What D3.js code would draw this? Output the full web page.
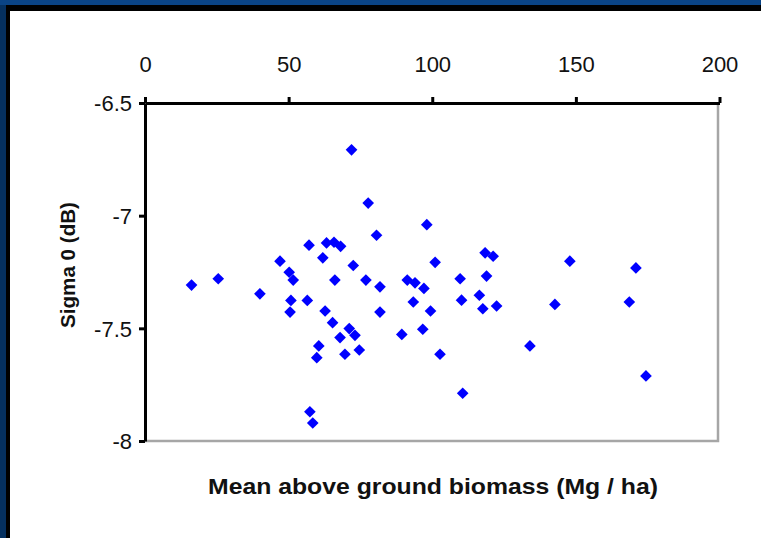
<!DOCTYPE html>
<html>
<head>
<meta charset="utf-8">
<script src="https://cdn.jsdelivr.net/npm/d3@7"></script>
<style>
  html, body { margin: 0; padding: 0; background: #0a4486; }
  svg { display: block; }
</style>
</head>
<body>
<div id="chart"></div>
<script>
// biomass (Mg/ha) and backscatter (dB)
const biomass = [16.2, 25.5, 40.0, 47.0, 50.2, 51.6, 50.8, 50.5, 56.5, 62.7,
    60.5, 59.8, 57.4, 58.4, 57.1, 63.2, 61.9, 71.9, 77.7, 80.6,
    98.1, 65.8, 68.1, 72.5, 101.0, 118.4, 121.2, 66.1, 76.9, 81.8,
    91.3, 94.0, 97.1, 109.7, 118.9, 65.3, 71.1, 73.1, 67.9, 69.6,
    74.6, 81.8, 93.4, 99.4, 89.4, 96.7, 110.2, 116.4, 117.6, 122.4,
    102.7, 110.6, 147.9, 170.9, 142.7, 168.6, 134.0, 174.4];
const sigma0 = [-7.308, -7.280, -7.347, -7.202, -7.251, -7.286, -7.376, -7.428, -7.376, -7.423,
    -7.578, -7.630, -7.870, -7.920, -7.131, -7.121, -7.187, -6.708, -6.944, -7.087,
    -7.040, -7.118, -7.136, -7.221, -7.207, -7.165, -7.180, -7.286, -7.286, -7.316,
    -7.286, -7.298, -7.323, -7.280, -7.268, -7.475, -7.501, -7.531, -7.541, -7.615,
    -7.596, -7.428, -7.383, -7.423, -7.527, -7.504, -7.375, -7.353, -7.413, -7.401,
    -7.615, -7.788, -7.202, -7.232, -7.394, -7.383, -7.578, -7.711];

const xTicks = [0, 50, 100, 150, 200];
const yTicks = [-6.5, -7, -7.5, -8];

const W = 761, H = 538;
const plot = { left: 145, right: 719.5, top: 103, bottom: 441 };

const svg = d3.select("#chart").append("svg")
    .attr("width", W)
    .attr("height", H);

// slide frame: blue strip, black rule, white panel
svg.append("rect").attr("width", W).attr("height", H).attr("fill", "#0a4486");
svg.append("rect").attr("x", 0).attr("y", 5).attr("width", 7).attr("height", H - 5).attr("fill", "#05305f");
svg.append("rect").attr("x", 6).attr("y", 5).attr("width", W - 6).attr("height", H - 5).attr("fill", "#000");
svg.append("rect").attr("x", 10).attr("y", 11).attr("width", W - 10).attr("height", H - 11).attr("fill", "#fff");

var x = d3.scaleLinear()
    .domain([0, 200])
    .range([plot.left, plot.right]);

var y = d3.scaleLinear()
    .domain([-8, -6.5])
    .range([plot.bottom, plot.top]);

// plot area border (grey right and bottom)
svg.append("path")
    .attr("d", `M${plot.left},${plot.bottom}H${plot.right - 1.5}V${plot.top}`)
    .attr("fill", "none")
    .attr("stroke", "#a6a6a6")
    .attr("stroke-width", 2.5);

// top x axis
const xAxis = svg.append("g")
    .attr("transform", `translate(0,${plot.top})`)
    .call(d3.axisTop(x).tickValues(xTicks).tickSize(6).tickSizeOuter(0).tickPadding(25));

// left y axis, plain hyphen for the minus like the original
const yAxis = svg.append("g")
    .attr("transform", `translate(${plot.left},0)`)
    .call(d3.axisLeft(y).tickValues(yTicks).tickSize(6).tickSizeOuter(0).tickPadding(7)
        .tickFormat(d => String(d)));

[xAxis, yAxis].forEach(function (g) {
    g.select(".domain").attr("stroke", "#000").attr("stroke-width", 3);
    g.selectAll(".tick line").attr("stroke", "#000").attr("stroke-width", 3);
    g.selectAll(".tick text")
        .attr("fill", "#111")
        .style("font-family", "'Liberation Sans', Arial, sans-serif")
        .style("font-size", "22px");
});
yAxis.selectAll(".tick text").attr("dy", "0.36em");

// markers
const diamond = d3.symbol().type(d3.symbolSquare).size(68);
svg.append("g")
    .selectAll("path")
    .data(biomass.map((b, i) => [b, sigma0[i]]))
    .enter().append("path")
    .attr("d", diamond)
    .attr("transform", d => `translate(${x(d[0])},${y(d[1])}) rotate(45)`)
    .attr("fill", "#0000ff");

// titles
svg.append("text")
    .attr("x", 433)
    .attr("y", 494)
    .attr("text-anchor", "middle")
    .attr("textLength", 450)
    .attr("lengthAdjust", "spacingAndGlyphs")
    .style("font-family", "'Liberation Sans', Arial, sans-serif")
    .style("font-weight", "bold")
    .style("font-size", "22px")
    .attr("fill", "#111")
    .text("Mean above ground biomass (Mg / ha)");

svg.append("text")
    .attr("transform", "translate(75,265) rotate(-90)")
    .attr("text-anchor", "middle")
    .attr("textLength", 126)
    .attr("lengthAdjust", "spacingAndGlyphs")
    .style("font-family", "'Liberation Sans', Arial, sans-serif")
    .style("font-weight", "bold")
    .style("font-size", "21px")
    .attr("fill", "#111")
    .text("Sigma 0 (dB)");
</script>
</body>
</html>
